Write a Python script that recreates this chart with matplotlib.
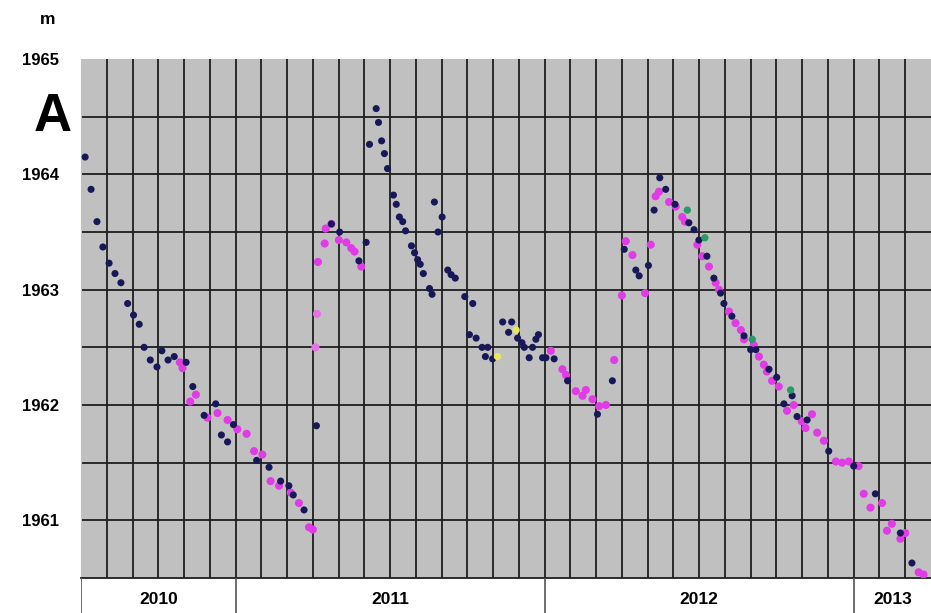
import matplotlib.pyplot as plt
import numpy as np

plt.rcParams['font.family'] = ['Liberation Sans', 'DejaVu Sans']

# x = months since 1 July 2010, y = water level (m)
navy_x = [0.16, 0.39, 0.62, 0.85, 1.09, 1.32, 1.55, 1.81, 2.04, 2.26, 2.45, 2.69, 2.95, 3.14, 3.38,
          3.62, 4.08, 4.34, 4.78, 5.23, 5.45, 5.69, 5.92, 6.82, 7.30, 7.75, 8.07, 8.24, 8.66, 9.14,
          9.72, 10.04, 10.79, 11.07, 11.20, 11.46, 11.55, 11.67, 11.78, 11.90, 12.13, 12.24, 12.36,
          12.49, 12.60, 12.83, 12.95, 13.07, 13.17, 13.29, 13.53, 13.63, 13.72, 14.02, 13.86, 14.24,
          14.37, 14.53, 14.90, 15.21, 15.08, 15.34, 15.57, 15.79, 15.70, 15.98, 16.37, 16.72, 16.60,
          16.95, 17.12, 17.21, 17.40, 17.53, 17.66, 17.76, 17.92, 18.05, 18.37, 18.89, 20.05, 20.63,
          21.09, 21.54, 21.67, 22.03, 22.25, 22.47, 22.70, 23.06, 23.60, 23.80, 23.99, 24.30, 24.57,
          24.83, 24.96, 25.27, 25.74, 26.00, 26.20, 26.71, 27.01, 27.29, 27.61, 27.80, 28.19, 29.03,
          30.00, 30.84, 31.81, 32.26]
navy_y = [1964.15, 1963.87, 1963.59, 1963.37, 1963.23, 1963.14, 1963.06, 1962.88, 1962.78, 1962.70,
          1962.50, 1962.39, 1962.33, 1962.47, 1962.39, 1962.42, 1962.37, 1962.16, 1961.91, 1962.01,
          1961.74, 1961.68, 1961.83, 1961.52, 1961.46, 1961.34, 1961.30, 1961.22, 1961.09, 1961.82,
          1963.57, 1963.50, 1963.25, 1963.41, 1964.26, 1964.57, 1964.45, 1964.29, 1964.18, 1964.05,
          1963.82, 1963.74, 1963.63, 1963.59, 1963.51, 1963.38, 1963.32, 1963.26, 1963.22, 1963.14,
          1963.01, 1962.96, 1963.76, 1963.63, 1963.50, 1963.17, 1963.13, 1963.10, 1962.94, 1962.88,
          1962.61, 1962.58, 1962.50, 1962.50, 1962.42, 1962.40, 1962.72, 1962.72, 1962.63, 1962.58,
          1962.54, 1962.50, 1962.41, 1962.50, 1962.57, 1962.61, 1962.41, 1962.41, 1962.40, 1962.21,
          1961.92, 1962.21, 1963.35, 1963.17, 1963.12, 1963.21, 1963.69, 1963.97, 1963.87, 1963.74,
          1963.58, 1963.52, 1963.43, 1963.29, 1963.10, 1962.97, 1962.88, 1962.77, 1962.60, 1962.48,
          1962.48, 1962.31, 1962.24, 1962.01, 1962.08, 1961.90, 1961.87, 1961.60, 1961.47, 1961.23,
          1960.89, 1960.63]

magenta_x = [3.84, 3.94, 4.24, 4.46, 4.91, 5.30, 5.69, 6.07, 6.43, 6.72, 7.04, 7.36, 7.69, 8.14, 8.46,
             8.85, 9.00, 9.20, 9.46, 9.50, 9.72, 10.01, 10.30, 10.49, 10.62, 10.88, 18.24, 18.69,
             18.83, 19.21, 19.47, 19.60, 19.86, 20.12, 20.38, 20.70, 21.00, 21.15, 21.41, 21.90, 22.12,
             22.31, 22.44, 22.83, 23.09, 23.34, 23.45, 23.93, 24.12, 24.38, 24.64, 24.77, 25.16, 25.41,
             25.62, 25.74, 26.12, 26.32, 26.51, 26.63, 26.83, 27.09, 27.41, 27.67, 27.98, 28.38, 28.13,
             28.58, 28.84, 29.31, 29.55, 29.81, 30.19, 30.39, 30.65, 31.10, 31.29, 31.48, 31.81, 32.00,
             32.52, 32.71]
magenta_y = [1962.37, 1962.32, 1962.03, 1962.09, 1961.89, 1961.93, 1961.87, 1961.79, 1961.75, 1961.60,
             1961.57, 1961.34, 1961.30, 1961.24, 1961.15, 1960.94, 1960.92, 1963.24, 1963.40, 1963.53,
             1963.57, 1963.43, 1963.41, 1963.36, 1963.33, 1963.20, 1962.47, 1962.31, 1962.26, 1962.12,
             1962.08, 1962.13, 1962.05, 1961.99, 1962.00, 1962.39, 1962.95, 1963.42, 1963.30, 1962.97,
             1963.39, 1963.81, 1963.85, 1963.76, 1963.72, 1963.63, 1963.59, 1963.39, 1963.29, 1963.20,
             1963.06, 1963.00, 1962.81, 1962.71, 1962.65, 1962.57, 1962.52, 1962.42, 1962.35, 1962.29,
             1962.21, 1962.16, 1961.95, 1962.00, 1961.86, 1961.92, 1961.80, 1961.76, 1961.69, 1961.51,
             1961.50, 1961.51, 1961.47, 1961.23, 1961.11, 1961.15, 1960.91, 1960.97, 1960.84, 1960.89,
             1960.55, 1960.53]

# paler pink readings at the start of 2011
pink_x = [9.10, 9.16]
pink_y = [1962.50, 1962.79]

green_x = [23.54, 24.22, 26.06, 27.55]
green_y = [1963.69, 1963.45, 1962.57, 1962.13]

yellow_x = [16.17, 16.89]
yellow_y = [1962.42, 1962.65]

years = ['2010', '2011', '2012', '2013']
year_start = [0, 6, 18, 30]
year_end = [6, 18, 30, 33]
level_ticks = [1961, 1962, 1963, 1964, 1965]

W, H = 931, 613
fig = plt.figure(figsize=(W / 100, H / 100), dpi=100)
ax = fig.add_axes([81 / W, 35 / H, 850 / W, 519 / H])
ax.set_facecolor('#c0c0c0')
ax.set_xlim(0, 33)
ax.set_ylim(1960.5, 1965)

for m in range(1, 33):
    ax.axvline(m, color='#1e1e1e', lw=1.3, zorder=1)
for lv in np.arange(1961, 1965, 0.5):
    ax.axhline(lv, color='#1e1e1e', lw=1.3, zorder=1)

ax.scatter(magenta_x, magenta_y, s=34, color='#e03ce6', edgecolors='none', zorder=3)
ax.scatter(pink_x, pink_y, s=34, color='#e870e8', edgecolors='none', zorder=3)
ax.scatter(navy_x, navy_y, s=26, color='#181858', edgecolors='none', zorder=4)
ax.scatter(green_x, green_y, s=28, color='#2a9a6a', edgecolors='none', zorder=5)
ax.scatter(yellow_x, yellow_y, s=28, color='#e8e860', edgecolors='none', zorder=5)

ax.set_xticks([])
ax.set_yticks(level_ticks)
ax.set_yticklabels([str(v) for v in level_ticks], fontsize=12, fontweight='bold')
ax.tick_params(axis='y', length=0, pad=16)
for s in ['top', 'right']:
    ax.spines[s].set_visible(False)
ax.spines['left'].set_color('#c0c0c0')
ax.spines['bottom'].set_color('#1e1e1e')
ax.spines['bottom'].set_linewidth(1.3)

# year strip below the plot
yr = fig.add_axes([81 / W, 0, 850 / W, 35 / H])
yr.set_xlim(0, 33)
yr.set_ylim(0, 1)
yr.axis('off')
for x0, x1, name in zip(year_start, year_end, years):
    yr.axvline(x0, color='#555555', lw=1.2)
    yr.text((x0 + x1) / 2, 0.38, name, ha='center', va='center', fontsize=12.5, fontweight='bold')

fig.text(48 / W, 1 - 19 / H, 'm', ha='center', va='center', fontsize=12.5, fontweight='bold')
fig.text(53 / W, 1 - 117 / H, 'A', ha='center', va='center', fontsize=38, fontweight='bold')

fig.savefig('out.png', dpi=100)
